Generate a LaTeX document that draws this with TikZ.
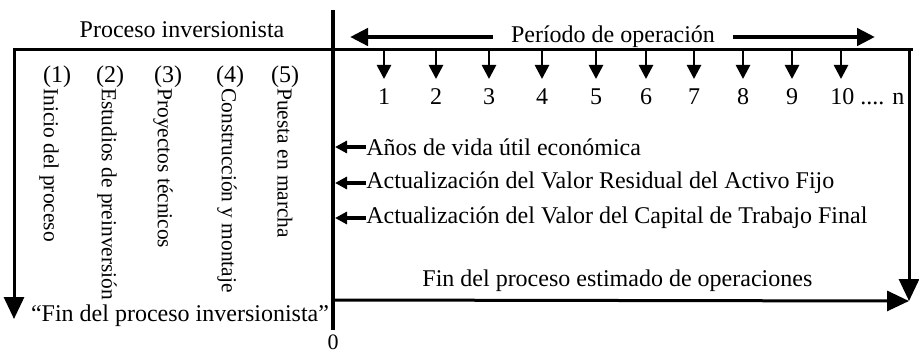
\documentclass[tikz,border=0pt]{standalone}
\usepackage{fontspec}
\setmainfont{Liberation Serif}
\usetikzlibrary{arrows.meta}

\begin{document}
\begin{tikzpicture}[
      x=0.5pt,
      y=-0.5pt,
      every node/.style={inner sep=0pt, font=\fontsize{12}{14}\selectfont},
      frame/.style={line width=1.5pt, line cap=rect},
      bigarrow/.style={line width=1.5pt, -{Triangle[length=11pt,width=10pt]}},
      toparrow/.style={line width=2.2pt, -{Triangle[length=9pt,width=8.5pt]}},
      tickarrow/.style={line width=1.3pt, -{Triangle[length=7pt,width=7pt]}},
      sidearrow/.style={line width=1.6pt, -{Triangle[length=6pt,width=6pt]}},
      phase/.style={rotate=-90, anchor=west, font=\fontsize{10.7}{13}\selectfont}]
    \useasboundingbox (0,0) rectangle (919,353);

    \coordinate (tl)   at ( 14,  50);
    \coordinate (tr)   at (911,  50);
    \coordinate (lend) at ( 14, 319);
    \coordinate (rtop) at (909,  50);
    \coordinate (rend) at (909, 301);
    \coordinate (top0) at (333,  10);
    \coordinate (bot0) at (333, 330);
    \coordinate (b0)   at (333, 300);
    \coordinate (pl)   at (350,  37);
    \coordinate (pr)   at (875,  37);

    \node (inv)     at (182,  30) {Proceso inversionista};
    \node (periodo) [inner xsep=9pt] at (613, 37) {Período de operación};
    \node (fininv)  at (180, 316) {“Fin del proceso inversionista”};
    \node (finop) [anchor=west] at (422, 281) {Fin del proceso estimado de operaciones};
    \node (cero)  [font=\fontsize{11}{13}\selectfont] at (333, 342) {0};

    \node (p1) at ( 57, 77) {(1)};
    \node (p2) at (110, 77) {(2)};
    \node (p3) at (168, 77) {(3)};
    \node (p4) at (230, 77) {(4)};
    \node (p5) at (285, 77) {(5)};

    \node [phase] (f1) at ( 49, 88) {Inicio del proceso};
    \node [phase] (f2) at (107, 88) {Estudios de preinversión};
    \node [phase] (f3) at (163, 88) {Proyectos técnicos};
    \node [phase] (f4) at (227, 88) {Construcción y montaje};
    \node [phase] (f5) at (285, 88) {Puesta en marcha};

    \node [anchor=west] (vida)  at (366, 147) {Años de vida útil económica};
    \node [anchor=west] (resid) at (366, 183) {Actualización del Valor Residual del Activo Fijo};
    \node [anchor=west] (capit) at (366, 218) {Actualización del Valor del Capital de Trabajo Final};
    \coordinate (v1) at (335, 147);
    \coordinate (v2) at (335, 183);
    \coordinate (v3) at (335, 218);

    \draw [frame] (tl) -- (tr);
    \draw [line width=2pt] (top0) -- (bot0);
    \draw [bigarrow] (tl) -- (lend);
    \draw [bigarrow] (rtop) -- (rend);
    \draw [bigarrow] (b0) -- (rend);

    \draw [toparrow] (periodo.west) -- (pl);
    \draw [toparrow] (periodo.east) -- (pr);

    \foreach \x [count=\i] in {384,436,489,542,596,646,694,743,792,841} {
      \coordinate (t\i) at (\x, 50);
      \coordinate (a\i) at (\x, 79);
      \draw [tickarrow] (t\i) -- (a\i);
    }
    \foreach \x [count=\i] in {384,436,489,542,596,646,694,743,792} {
      \node (n\i) at (\x, 97) {\i};
    }
    \node [anchor=west] (n10) at (830, 97) {10 .... n};

    \draw [sidearrow] (vida.west)  -- (v1);
    \draw [sidearrow] (resid.west) -- (v2);
    \draw [sidearrow] (capit.west) -- (v3);

  \end{tikzpicture}
\end{document}
